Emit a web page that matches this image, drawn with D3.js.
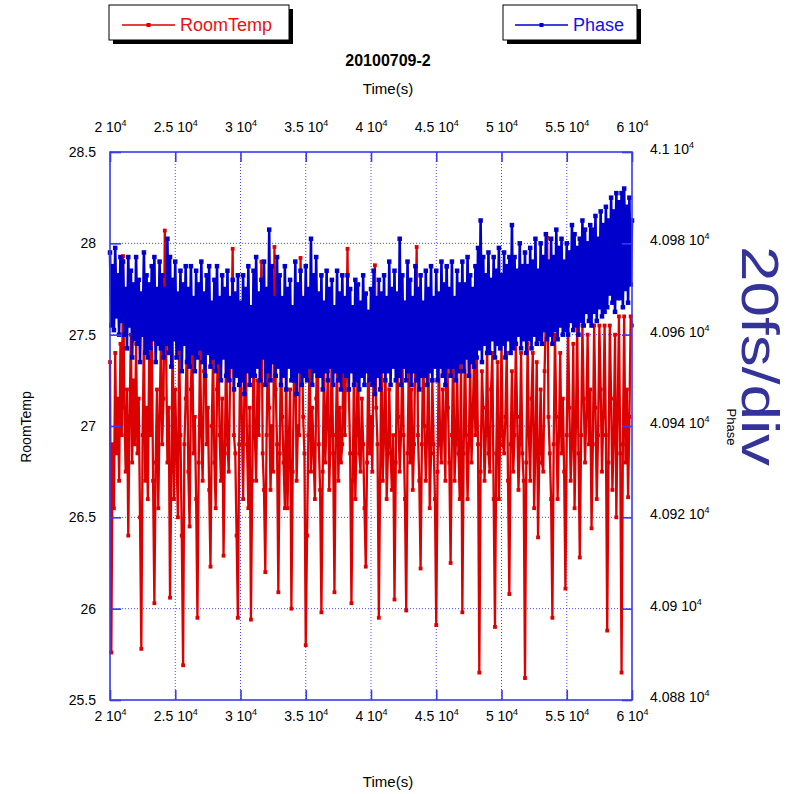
<!DOCTYPE html>
<html>
<head>
<meta charset="utf-8">
<script src="https://cdn.jsdelivr.net/npm/d3@7"></script>
<style>
  body { margin: 0; background: #fff; }
  text { font-family: "Liberation Sans", Arial, sans-serif; }
</style>
</head>
<body>
<svg id="chart" width="796" height="794"></svg>
<script>
// Logged samples, one every 100 s from t = 20000 s
const timeStart = 20000;
const timeStep = 100;

// Room temperature (deg C)
const roomTemp = [
  27.35, 25.76, 26.90, 26.55, 27.40, 26.85, 27.15, 26.70, 27.45, 26.95,
  27.93, 27.10, 26.75, 27.20, 26.40, 27.05, 27.50, 26.80, 27.25, 26.90,
  27.45, 26.85, 27.15, 26.50, 25.78, 26.95, 27.50, 26.70, 27.10, 26.60,
  27.40, 26.95, 27.55, 26.70, 26.03, 26.80, 27.20, 26.55, 27.05, 27.45,
  26.90, 27.15, 28.07, 27.40, 26.80, 27.10, 26.06, 26.75, 27.50, 26.60,
  27.20, 26.85, 26.50, 27.45, 26.95, 26.40, 25.69, 26.90, 27.15, 27.50,
  26.75, 26.45, 27.20, 27.50, 26.85, 27.05, 26.60, 25.95, 26.80, 27.45,
  26.95, 26.70, 27.30, 27.55, 26.90, 27.10, 26.65, 26.23, 27.00, 27.40,
  26.80, 26.55, 27.20, 27.50, 26.95, 26.70, 27.15, 26.29, 26.85, 27.45,
  26.90, 26.75, 27.25, 27.50, 27.97, 26.95, 26.85, 26.40, 25.95, 26.90,
  27.50, 27.05, 26.60, 27.20, 27.45, 26.90, 26.55, 27.10, 25.94, 26.70,
  27.45, 26.95, 26.70, 27.25, 26.95, 27.40, 27.90, 26.85, 26.65, 26.20,
  26.95, 27.45, 27.10, 26.65, 27.00, 26.75, 27.98, 27.20, 26.90, 26.09,
  26.85, 27.40, 27.05, 26.80, 26.55, 27.35, 26.55, 26.90, 27.20, 26.00,
  26.75, 27.30, 27.55, 26.70, 27.00, 26.95, 27.92, 27.50, 27.05, 26.85,
  25.80, 26.40, 26.95, 27.45, 26.75, 27.10, 26.85, 26.60, 27.15, 27.50,
  26.90, 26.65, 25.98, 26.75, 27.40, 26.80, 27.05, 27.30, 26.65, 26.95,
  27.45, 26.85, 26.09, 26.95, 27.35, 26.70, 27.10, 26.80, 26.90, 27.50,
  26.95, 27.40, 27.97, 27.20, 26.85, 26.03, 26.70, 27.35, 26.60, 26.95,
  27.45, 26.85, 26.75, 27.15, 26.90, 26.55, 26.23, 26.80, 27.40, 26.85,
  27.05, 26.75, 27.35, 27.88, 27.10, 26.90, 25.95, 26.70, 27.45, 26.70,
  26.95, 27.40, 26.60, 26.85, 27.20, 26.85, 26.65, 26.95, 26.05, 26.80,
  27.45, 27.05, 26.75, 26.95, 27.40, 26.95, 26.60, 25.99, 26.85, 27.35,
  26.80, 27.20, 26.65, 26.90, 27.45, 27.98, 26.95, 26.70, 26.22, 26.90,
  27.45, 27.00, 26.70, 26.95, 27.40, 26.55, 26.85, 27.25, 26.90, 26.60,
  25.91, 26.75, 27.40, 26.90, 26.80, 27.20, 26.95, 26.70, 27.87, 27.10,
  26.80, 26.25, 26.95, 27.45, 26.70, 26.90, 27.30, 26.85, 26.60, 27.40,
  25.98, 26.85, 27.45, 26.95, 26.60, 26.90, 27.35, 26.80, 27.05, 27.40,
  26.95, 27.45, 26.90, 25.65, 26.75, 27.30, 27.10, 26.70, 26.95, 27.45,
  26.85, 26.75, 27.20, 27.40, 26.60, 25.90, 26.85, 27.35, 26.60, 26.95,
  27.45, 26.90, 26.85, 27.05, 27.40, 26.70, 26.08, 26.90, 27.30, 26.75,
  26.95, 27.45, 27.05, 26.65, 26.90, 27.40, 26.85, 26.70, 25.62, 26.80,
  27.45, 26.95, 26.70, 27.15, 27.40, 26.55, 26.90, 27.35, 26.39, 26.85,
  27.20, 26.80, 26.75, 27.30, 27.60, 28.03, 27.05, 26.85, 26.60, 25.95,
  26.90, 27.50, 27.05, 26.60, 26.95, 27.40, 26.85, 27.15, 26.75, 26.11,
  26.95, 27.55, 27.10, 26.70, 26.90, 27.45, 26.55, 27.00, 27.55, 26.85,
  26.28, 26.95, 27.55, 27.15, 26.80, 27.05, 27.50, 26.90, 27.20, 26.44,
  26.90, 27.55, 27.10, 26.60, 26.95, 27.55, 27.20, 26.75, 27.05, 27.55,
  26.95, 25.88, 26.80, 27.55, 27.15, 26.65, 26.95, 27.50, 26.50, 27.05,
  27.60, 26.85, 25.65, 26.90, 27.60, 26.80, 27.20, 26.61, 27.05, 27.60,
  27.55
];

// Phase reading (raw units)
const phase = [
  40978, 40962, 40975, 40961, 40979, 40964, 40973, 40960, 40977, 40963,
  40976, 40960, 40970, 40957, 40977, 40962, 40974, 40955, 40971, 40959,
  40977, 40958, 40972, 40954, 40969, 40960, 40978, 40956, 40973, 40955,
  40971, 40957, 40975, 40959, 40977, 40954, 40970, 40958, 40976, 40957,
  40973, 40955, 40970, 40958, 40981, 40956, 40977, 40953, 40972, 40959,
  40976, 40955, 40969, 40957, 40974, 40952, 40971, 40958, 40975, 40954,
  40970, 40953, 40975, 40956, 40968, 40952, 40974, 40955, 40971, 40957,
  40976, 40954, 40969, 40951, 40973, 40956, 40975, 40953, 40967, 40955,
  40972, 40952, 40975, 40954, 40968, 40950, 40973, 40955, 40970, 40951,
  40974, 40950, 40968, 40953, 40972, 40948, 40969, 40951, 40973, 40949,
  40967, 40950, 40973, 40947, 40970, 40952, 40975, 40949, 40966, 40951,
  40974, 40951, 40977, 40953, 40969, 40950, 40972, 40955, 40976, 40949,
  40970, 40952, 40983, 40950, 40975, 40954, 40968, 40951, 40977, 40953,
  40973, 40949, 40968, 40951, 40975, 40948, 40970, 40953, 40972, 40950,
  40966, 40950, 40976, 40947, 40971, 40952, 40974, 40949, 40968, 40951,
  40975, 40950, 40970, 40953, 40981, 40949, 40973, 40952, 40977, 40951,
  40969, 40951, 40973, 40948, 40967, 40952, 40974, 40950, 40970, 40953,
  40972, 40949, 40966, 40952, 40974, 40950, 40969, 40948, 40973, 40952,
  40968, 40951, 40973, 40948, 40970, 40952, 40966, 40949, 40972, 40950,
  40971, 40948, 40967, 40951, 40973, 40949, 40969, 40952, 40965, 40950,
  40970, 40949, 40974, 40947, 40968, 40951, 40972, 40948, 40969, 40952,
  40973, 40950, 40968, 40952, 40976, 40949, 40970, 40953, 40974, 40950,
  40969, 40951, 40981, 40949, 40973, 40953, 40967, 40950, 40976, 40952,
  40972, 40949, 40968, 40952, 40975, 40950, 40970, 40948, 40973, 40951,
  40967, 40951, 40974, 40949, 40970, 40952, 40975, 40950, 40968, 40953,
  40974, 40950, 40969, 40953, 40976, 40951, 40971, 40949, 40975, 40953,
  40970, 40951, 40976, 40953, 40968, 40950, 40974, 40952, 40971, 40954,
  40976, 40952, 40971, 40955, 40977, 40951, 40973, 40954, 40970, 40953,
  40975, 40955, 40979, 40957, 40985, 40954, 40977, 40958, 40973, 40956,
  40978, 40956, 40972, 40959, 40977, 40955, 40974, 40958, 40979, 40957,
  40973, 40958, 40978, 40955, 40975, 40959, 40977, 40956, 40984, 40957,
  40977, 40958, 40974, 40960, 40980, 40957, 40975, 40959, 40978, 40956,
  40975, 40959, 40979, 40957, 40976, 40960, 40981, 40958, 40974, 40959,
  40980, 40958, 40977, 40961, 40982, 40959, 40976, 40960, 40981, 40958,
  40977, 40961, 40983, 40959, 40979, 40962, 40981, 40960, 40976, 40961,
  40980, 40960, 40978, 40963, 40984, 40961, 40982, 40962, 40979, 40960,
  40981, 40963, 40985, 40962, 40983, 40965, 40980, 40963, 40984, 40962,
  40983, 40965, 40986, 40963, 40981, 40966, 40987, 40964, 40984, 40965,
  40988, 40966, 40985, 40969, 40990, 40967, 40987, 40965, 40991, 40968,
  40989, 40968, 40991, 40966, 40992, 40970, 40988, 40967, 40990, 40971,
  40985
];

// Axis ticks and their labels (mantissa shown before "10^4")
const timeTicks = [20000, 25000, 30000, 35000, 40000, 45000, 50000, 55000, 60000];
const timeTickLabels = ["2", "2.5", "3", "3.5", "4", "4.5", "5", "5.5", "6"];
const tempTicks = [25.5, 26, 26.5, 27, 27.5, 28, 28.5];
const tempTickLabels = ["25.5", "26", "26.5", "27", "27.5", "28", "28.5"];
const phaseTicks = [40880, 40900, 40920, 40940, 40960, 40980, 41000];
const phaseTickLabels = ["4.088", "4.09", "4.092", "4.094", "4.096", "4.098", "4.1"];

const seriesNames = ["RoomTemp", "Phase"];
const seriesColors = ["#dd0000", "#0000cc"];

const svg = d3.select("#chart");
const plotLeft = 110, plotRight = 632, plotTop = 152, plotBottom = 700;
const frameColor = "#3a3aee";
const gridColor = "#4848ff";

const x = d3.scaleLinear().domain([20000, 60000]).range([plotLeft, plotRight]);
const yTemp = d3.scaleLinear().domain([25.5, 28.5]).range([plotBottom, plotTop]);
const yPhase = d3.scaleLinear().domain([40880, 41000]).range([plotBottom, plotTop]);

const tempData = roomTemp.map((v, i) => ({ t: timeStart + i * timeStep, v }));
const phaseData = phase.map((v, i) => ({ t: timeStart + i * timeStep, v }));

// Dotted grid
const grid = svg.append("g");
grid.selectAll("line.gx").data(timeTicks.slice(1, -1)).join("line")
  .attr("x1", d => x(d)).attr("x2", d => x(d))
  .attr("y1", plotTop).attr("y2", plotBottom)
  .attr("stroke", gridColor).attr("stroke-width", 1).attr("stroke-dasharray", "1,2");
grid.selectAll("line.gy").data(tempTicks.slice(1, -1)).join("line")
  .attr("x1", plotLeft).attr("x2", plotRight)
  .attr("y1", d => yTemp(d)).attr("y2", d => yTemp(d))
  .attr("stroke", gridColor).attr("stroke-width", 1).attr("stroke-dasharray", "1,2");

// Series: line plus square markers
function drawSeries(data, yScale, color, width, size) {
  const g = svg.append("g");
  g.append("path").datum(data)
    .attr("fill", "none").attr("stroke", color).attr("stroke-width", width)
    .attr("stroke-linejoin", "bevel")
    .attr("d", d3.line().x(d => x(d.t)).y(d => yScale(d.v)));
  g.selectAll("rect").data(data).join("rect")
    .attr("x", d => x(d.t) - size / 2).attr("y", d => yScale(d.v) - size / 2)
    .attr("width", size).attr("height", size).attr("fill", color);
}
drawSeries(tempData, yTemp, seriesColors[0], 2.3, 3.8);
drawSeries(phaseData, yPhase, seriesColors[1], 2.6, 4.5);

// Frame
svg.append("rect").attr("x", plotLeft).attr("y", plotTop)
  .attr("width", plotRight - plotLeft).attr("height", plotBottom - plotTop)
  .attr("fill", "none").attr("stroke", frameColor).attr("stroke-width", 1.6);

// Tick label with a raised exponent
function sciLabel(sel, mant) {
  sel.text(null);
  sel.append("tspan").text(mant + " 10");
  sel.append("tspan").attr("font-size", 9).attr("dy", -6).text("4");
}

function styleAxis(g) {
  g.select(".domain").remove();
  g.selectAll(".tick line").attr("stroke", frameColor).attr("stroke-width", 1.6);
  g.selectAll(".tick text").attr("fill", "#000").attr("font-size", 14)
    .attr("font-family", "Liberation Sans, Arial, sans-serif");
}

const axTop = svg.append("g").attr("transform", `translate(0,${plotTop})`)
  .call(d3.axisTop(x).tickValues(timeTicks).tickSizeInner(-10).tickPadding(20)
    .tickFormat((d, i) => timeTickLabels[i]));
styleAxis(axTop);
axTop.selectAll(".tick text").each(function (d, i) { sciLabel(d3.select(this), timeTickLabels[i]); });

const axBottom = svg.append("g").attr("transform", `translate(0,${plotBottom})`)
  .call(d3.axisBottom(x).tickValues(timeTicks).tickSizeInner(-10).tickPadding(11)
    .tickFormat((d, i) => timeTickLabels[i]));
styleAxis(axBottom);
axBottom.selectAll(".tick text").each(function (d, i) { sciLabel(d3.select(this), timeTickLabels[i]); });

const axLeft = svg.append("g").attr("transform", `translate(${plotLeft},0)`)
  .call(d3.axisLeft(yTemp).tickValues(tempTicks).tickSizeInner(-11).tickPadding(14)
    .tickFormat((d, i) => tempTickLabels[i]));
styleAxis(axLeft);

const axRight = svg.append("g").attr("transform", `translate(${plotRight},0)`)
  .call(d3.axisRight(yPhase).tickValues(phaseTicks).tickSizeInner(-10).tickPadding(18)
    .tickFormat((d, i) => phaseTickLabels[i]));
styleAxis(axRight);
axRight.selectAll(".tick text").each(function (d, i) { sciLabel(d3.select(this), phaseTickLabels[i]); });
axRight.selectAll(".tick text").attr("dy", "0.1em");

// Titles
svg.append("text").attr("x", 388).attr("y", 66).attr("text-anchor", "middle")
  .attr("font-size", 16).attr("font-weight", "bold").text("20100709-2");
svg.append("text").attr("x", 388).attr("y", 94).attr("text-anchor", "middle")
  .attr("font-size", 15).text("Time(s)");
svg.append("text").attr("x", 388).attr("y", 787).attr("text-anchor", "middle")
  .attr("font-size", 15).text("Time(s)");
svg.append("text").attr("transform", "translate(31,427) rotate(-90)")
  .attr("text-anchor", "middle").attr("font-size", 14).text("RoomTemp");
svg.append("text").attr("transform", "translate(727,427) rotate(90)")
  .attr("text-anchor", "middle").attr("font-size", 13).text("Phase");
svg.append("text").attr("transform", "translate(742,356) rotate(90)")
  .attr("text-anchor", "middle").attr("font-size", 52).attr("fill", "#333399")
  .attr("textLength", 220).attr("lengthAdjust", "spacingAndGlyphs").text("20fs/div");

// Legend boxes with drop shadow
const legendBoxes = [
  { x: 109, w: 180, lx1: 122, lx2: 175, tx: 180 },
  { x: 503, w: 134, lx1: 515, lx2: 568, tx: 573 }
];
legendBoxes.forEach((b, i) => {
  const g = svg.append("g");
  g.append("rect").attr("x", b.x + 4).attr("y", 9).attr("width", b.w).attr("height", 35).attr("fill", "#000");
  g.append("rect").attr("x", b.x).attr("y", 5).attr("width", b.w).attr("height", 35)
    .attr("fill", "#fff").attr("stroke", "#000").attr("stroke-width", 1);
  g.append("line").attr("x1", b.lx1).attr("x2", b.lx2).attr("y1", 25).attr("y2", 25)
    .attr("stroke", seriesColors[i]).attr("stroke-width", 1.4);
  g.append("rect").attr("x", (b.lx1 + b.lx2) / 2 - 2).attr("y", 23).attr("width", 4).attr("height", 4)
    .attr("fill", seriesColors[i]);
  g.append("text").attr("x", b.tx).attr("y", 31).attr("font-size", 18)
    .attr("fill", i === 0 ? "#ee1111" : "#1111ee").text(seriesNames[i]);
});
</script>
</body>
</html>
